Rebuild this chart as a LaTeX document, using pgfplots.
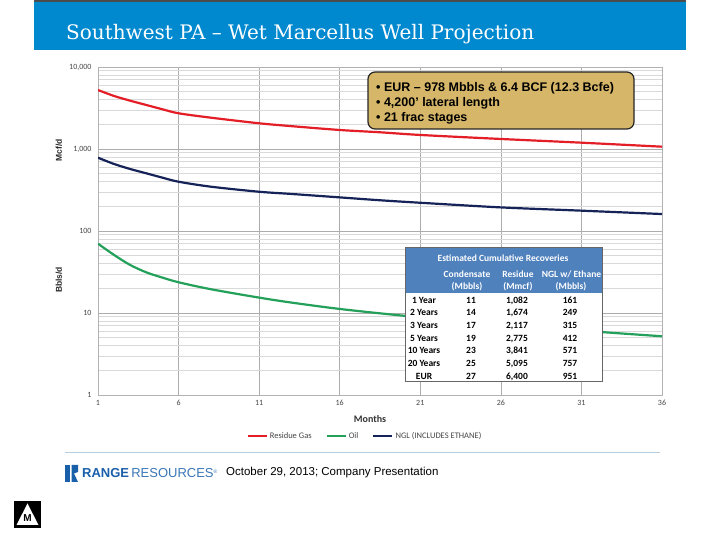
\documentclass[border=0pt]{standalone}
\usepackage{pgfplots}
\pgfplotsset{compat=1.18}
\usepackage{fontspec}
\setmainfont{Liberation Sans}
\newfontfamily\carlito{Carlito}
\newfontfamily\titlefont{DejaVu Serif}
\definecolor{hdrblue}{RGB}{0,137,207}
\definecolor{gasred}{RGB}{228,30,38}
\definecolor{oilgreen}{RGB}{35,160,90}
\definecolor{nglnavy}{RGB}{22,35,88}
\definecolor{goldbox}{RGB}{214,182,104}
\definecolor{tblblue}{RGB}{79,129,189}
\definecolor{logoblue}{RGB}{25,95,170}
\definecolor{ticktext}{RGB}{70,70,70}
\begin{document}
\begin{tikzpicture}[x=1pt,y=1pt]
\fill[white] (0,0) rectangle (720,540);
% header band
\fill[hdrblue] (34,490) rectangle (686,538);
\fill[black!70] (34,537.5) rectangle (686,540);
\node[anchor=base west, text=white, inner sep=0] at (66,500) {\titlefont\fontsize{20}{24}\selectfont Southwest PA – Wet Marcellus Well Projection};

\begin{axis}[
  at={(98pt,145pt)}, anchor=south west, scale only axis,
  width=564pt, height=328pt,
  xmin=1, xmax=36, ymode=log, ymin=1, ymax=10000,
  xtick={1,6,11,16,21,26,31,36},
  xticklabels={1,6,11,16,21,26,31,36},
  ytick={1,10,100,1000,10000},
  yticklabels={1,10,100,{1,000},{10,000}},
  minor ytick={2,3,4,5,6,7,8,9,20,30,40,50,60,70,80,90,200,300,400,500,600,700,800,900,2000,3000,4000,5000,6000,7000,8000,9000},
  grid=both,
  major grid style={gray!65, line width=0.6pt},
  minor grid style={gray!30, line width=0.6pt},
  axis line style={gray!60},
  major tick length=0pt, minor tick length=0pt,
  tick label style={font=\carlito\fontsize{8}{9}\selectfont, text=ticktext},
  yticklabel style={xshift=-3pt},
  xticklabel style={yshift=-2pt},
  /pgf/number format/assume math mode=true,
  legend style={at={(0.4734,-0.125)}, anchor=center, draw=none, fill=none,
    legend columns=3, font=\carlito\fontsize{8.5}{9}\selectfont, text=ticktext,
    /tikz/every even column/.append style={column sep=12pt}},
  legend image code/.code={\draw[#1, line width=2.2pt] (0pt,0pt) -- (19pt,0pt);},
]
\addplot[gasred, line width=2.2pt, smooth] coordinates {
(1,5240) (2,4430) (3,3880) (4,3440) (5,3050) (6,2725) (8,2410) (11,2058) (13,1900) (16,1705) (18.5,1599) (21,1483) (26,1325) (31,1194) (36,1067)};
\addlegendentry{Residue Gas}
\addplot[oilgreen, line width=2.2pt, smooth] coordinates {
(1,70) (2,51) (3,38.5) (4,31.3) (5,27) (6,23.7) (8,19.5) (11,15.4) (13,13.4) (16,11.2) (19.4,9.5) (21,8.9) (26,7.3) (31,6.1) (36,5.2)};
\addlegendentry{Oil}
\addplot[nglnavy, line width=2.2pt, smooth] coordinates {
(1,783) (2,656) (3,570) (4,505) (5,447) (6,399) (8,347) (11,301) (13,283) (16,257) (18.5,237) (21,221) (26,194) (31,177) (36,161)};
\addlegendentry{NGL (INCLUDES ETHANE)}
\end{axis}

% axis titles
\node[rotate=90, font=\bfseries\fontsize{8.5}{9}\selectfont, text=black!85] at (59,390) {Mcf/d};
\node[rotate=90, font=\bfseries\fontsize{8.5}{9}\selectfont, text=black!85] at (59,260) {Bbls/d};
\node[font=\carlito\bfseries\fontsize{10}{11}\selectfont, text=black!80] at (370,121) {Months};

% gold box
\draw[fill=goldbox, rounded corners=7pt, draw=black!85, line width=1.2pt] (368,411) rectangle (634,468);
\begin{scope}[every node/.style={anchor=base west, inner sep=0, font=\bfseries\fontsize{12.5}{14}\selectfont}]
\node at (376,448) {• EUR – 978 Mbbls \& 6.4 BCF (12.3 Bcfe)};
\node at (376,433.5) {• 4,200' lateral length};
\node at (376,418.5) {• 21 frac stages};
\end{scope}

% table
\fill[white] (405,158.3) rectangle (602,292.7);
\fill[tblblue] (405,247) rectangle (602,292.7);
\draw[black!60, line width=0.6pt] (405,158.3) rectangle (602,292.7);
\begin{scope}[every node/.style={inner sep=0, anchor=base, font=\carlito\bfseries\fontsize{9.5}{11}\selectfont}]
\node[text=white] at (503,278.5) {Estimated Cumulative Recoveries};
\node[text=white] at (467,262.5) {Condensate};
\node[text=white] at (518,262.5) {Residue};
\node[text=white] at (571.5,262.5) {NGL w/ Ethane};
\node[text=white] at (467,250) {(Mbbls)};
\node[text=white] at (518,250) {(Mmcf)};
\node[text=white] at (571,250) {(Mbbls)};
\node at (424,236.7) {1 Year};   \node at (471,236.7) {11}; \node at (517,236.7) {1,082}; \node at (570,236.7) {161};
\node at (424,224) {2 Years}; \node at (471,224) {14}; \node at (517,224) {1,674}; \node at (570,224) {249};
\node at (424,211.4) {3 Years}; \node at (471,211.4) {17}; \node at (517,211.4) {2,117}; \node at (570,211.4) {315};
\node at (424,198.7) {5 Years}; \node at (471,198.7) {19}; \node at (517,198.7) {2,775}; \node at (570,198.7) {412};
\node at (424,186) {10 Years}; \node at (471,186) {23}; \node at (517,186) {3,841}; \node at (570,186) {571};
\node at (424,173.4) {20 Years}; \node at (471,173.4) {25}; \node at (517,173.4) {5,095}; \node at (570,173.4) {757};
\node at (424,160.7) {EUR}; \node at (471,160.7) {27}; \node at (517,160.7) {6,400}; \node at (570,160.7) {951};
\end{scope}

% footer
\draw[color={rgb,255:red,180;green,205;blue,225}, line width=1pt] (65,87) -- (660,87);
\fill[logoblue] (65,58) rectangle (70,75);
\fill[logoblue] (71.5,75) -- (78,75) -- (78,68) -- (74,66.5) -- (78,58) -- (71.5,58) -- cycle;
\node[anchor=west, inner sep=0, font=\fontsize{13}{14}\selectfont] at (82,67) {\textcolor{logoblue}{\bfseries RANGE}\,\textcolor{logoblue!85}{RESOURCES}\textcolor{logoblue!85}{\raisebox{4pt}{\fontsize{5}{5}\selectfont ®}}};
\node[anchor=west, inner sep=0, font=\fontsize{11.5}{13}\selectfont] at (226,67) {October 29, 2013; Company Presentation};
% M icon
\fill[black] (14,12) rectangle (41,39);
\fill[white] (16.5,15) -- (27.5,36.5) -- (38.5,15) -- cycle;
\node[font=\bfseries\fontsize{10}{10}\selectfont, inner sep=0] at (27.5,21.5) {M};
\end{tikzpicture}
\end{document}
